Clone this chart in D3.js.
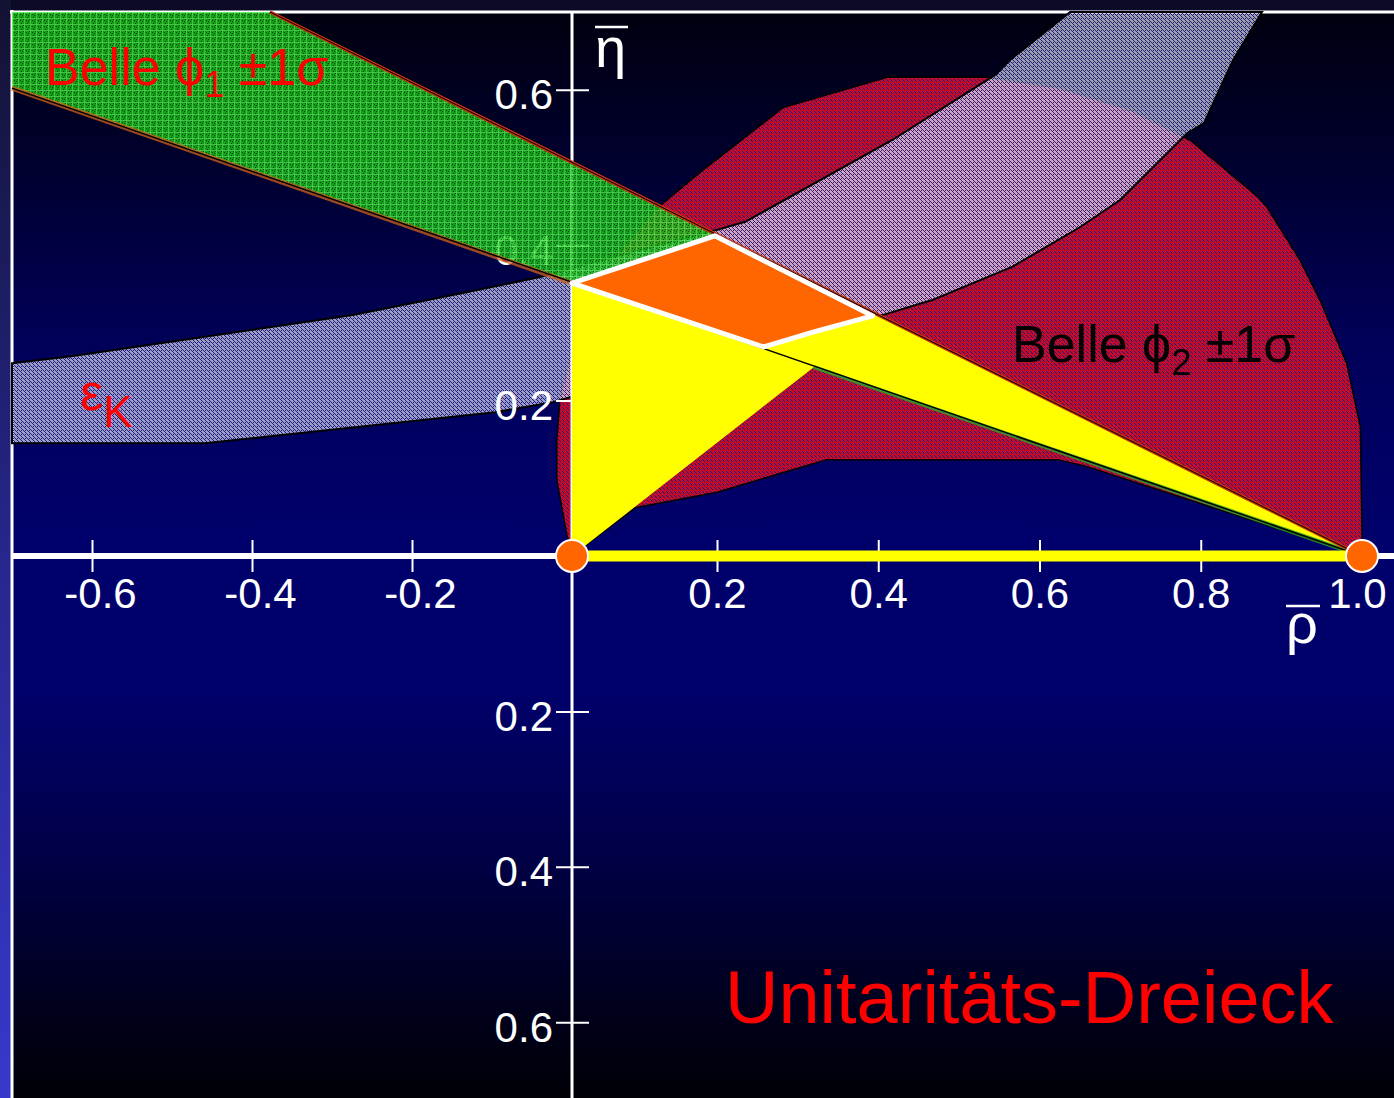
<!DOCTYPE html>
<html>
<head>
<meta charset="utf-8">
<script src="https://cdn.jsdelivr.net/npm/d3@7"></script>
<style>
html, body { margin: 0; padding: 0; background: #0b0b28; }
svg { display: block; }
text { font-family: "Liberation Sans", Arial, sans-serif; }
</style>
</head>
<body>
<div id="chart"></div>
<script>
// tick values on the rho-bar / eta-bar axes
const xTicks = [-0.6, -0.4, -0.2, 0.2, 0.4, 0.6, 0.8, 1.0]
const yTicks = [-0.6, -0.4, -0.2, 0.2, 0.4, 0.6]

// Belle phi1 +-1 sigma wedge, both edges run into (1,0)
const phi1Band = [[-0.7, 0.7], [-0.3775, 0.7], [1, 0], [-0.7, 0.602]]
const phi1Upper = [[-0.3775, 0.7], [1, 0]]
const phi1LowerLeft = [[-0.7, 0.602], [0, 0.351]]
const phi1LowerRight = [[0.32, 0.243], [1, 0]]

// Belle phi2 +-1 sigma region
const phi2Region = [
  [0, 0], [0.087, 0.062], [0.2, 0.082], [0.336, 0.124], [0.622, 0.124], [0.656, 0.116], [1, 0],
  [1, 0.03], [0.998, 0.166], [0.981, 0.248], [0.948, 0.329], [0.923, 0.381], [0.882, 0.449],
  [0.871, 0.462], [0.787, 0.535], [0.712, 0.574], [0.625, 0.602], [0.534, 0.616], [0.411, 0.616],
  [0.282, 0.577], [0.177, 0.494], [0.114, 0.445], [0.052, 0.375], [0.004, 0.278], [-0.015, 0.203],
  [-0.019, 0.149], [-0.019, 0.098], [-0.006, 0.0245], [0, 0.0103]
]

// epsilon_K band
const epsKBand = [
  [-0.7, 0.248], [-0.626, 0.257], [-0.459, 0.282], [-0.274, 0.310], [-0.129, 0.340], [-0.04, 0.359],
  [0.066, 0.387], [0.201, 0.420], [0.235, 0.430], [0.417, 0.535], [0.545, 0.619], [0.563, 0.638],
  [0.638, 0.700], [0.876, 0.700], [0.840, 0.638], [0.804, 0.557], [0.783, 0.544], [0.700, 0.458],
  [0.650, 0.423], [0.566, 0.372], [0.466, 0.329], [0.402, 0.309], [0.253, 0.272], [0.108, 0.233],
  [0, 0.205], [-0.024, 0.198], [-0.096, 0.185], [-0.459, 0.145], [-0.7, 0.145]
]

// yellow triangle region and the combined best fit (orange)
const triangle = [[0, 0], [0, 0.351], [0.197, 0.414], [1, 0], [0.32, 0.243]]
const bestFit = [[0, 0.351], [0.197, 0.412], [0.393, 0.309], [0.319, 0.288], [0.258, 0.269]]
const corners = [[0, 0], [1, 0]]

const width = 1394, height = 1098

const svg = d3.select("#chart").append("svg")
    .attr("width", width)
    .attr("height", height)

// slide axes were placed by hand, so rho uses a few linear pieces
const x = d3.scaleLinear().domain([-0.7, 0, 0.2, 1]).range([12, 572, 717, 1362])
const y = d3.scaleLinear().domain([-0.7, 0.7]).range([1100, 12])

const defs = svg.append("defs")

function vGrad(id, stops) {
    let g = defs.append("linearGradient").attr("id", id)
        .attr("x1", 0).attr("y1", 0).attr("x2", 0).attr("y2", 1)
    stops.forEach(s => g.append("stop").attr("offset", s[0]).attr("stop-color", s[1]))
}
vGrad("bg", [[0, "#000010"], [0.13, "#00002c"], [0.31, "#00005a"], [0.49, "#00006c"],
             [0.63, "#00006a"], [0.77, "#000048"], [0.91, "#00001e"], [1, "#000006"]])
vGrad("side", [[0, "#121232"], [0.5, "#26268c"], [1, "#3838cc"]])

function speckle(id, size, base, baseOpacity, dots, dotColor, dotOpacity) {
    let p = defs.append("pattern").attr("id", id)
        .attr("patternUnits", "userSpaceOnUse")
        .attr("width", size).attr("height", size)
    p.append("rect").attr("width", size).attr("height", size)
        .attr("fill", base).attr("fill-opacity", baseOpacity)
    dots.forEach(d => p.append("rect").attr("x", d[0]).attr("y", d[1])
        .attr("width", 1).attr("height", 1)
        .attr("fill", dotColor).attr("fill-opacity", dotOpacity))
    return p
}

let gp = speckle("greenTex", 6, "#16bc16", 1, [[2, 2], [4, 3], [3, 5], [5, 1]], "#055005", 1)
gp.append("rect").attr("width", 6).attr("height", 1).attr("fill", "#66f466").attr("fill-opacity", 0.7)
gp.append("rect").attr("width", 1).attr("height", 6).attr("fill", "#66f466").attr("fill-opacity", 0.7)
speckle("redTex", 4, "#c40c28", 1, [[0, 1], [2, 3], [3, 0]], "#1a1a80", 1)
speckle("epsTex", 4, "#ffffff", 0.62, [[1, 0], [3, 2], [0, 3], [2, 1], [1, 2]], "#10108a", 0.9)

// background, frame
svg.append("rect").attr("width", width).attr("height", height).attr("fill", "#0b0b28")
svg.append("rect").attr("x", 0).attr("y", 0).attr("width", 11).attr("height", height).attr("fill", "url(#side)")
svg.append("rect").attr("x", 12).attr("y", 12).attr("width", width - 12).attr("height", height - 12).attr("fill", "url(#bg)")
svg.append("line").attr("x1", 10).attr("x2", width).attr("y1", 12).attr("y2", 12)
    .attr("stroke", "white").attr("stroke-width", 3)
svg.append("line").attr("x1", 12).attr("x2", 12).attr("y1", 10).attr("y2", height)
    .attr("stroke", "white").attr("stroke-width", 3)

const poly = d3.line().x(d => x(d[0])).y(d => y(d[1])).curve(d3.curveLinearClosed)
const seg = d3.line().x(d => x(d[0])).y(d => y(d[1]))

// phi2 region
svg.append("path").attr("d", poly(phi2Region))
    .attr("fill", "url(#redTex)").attr("stroke", "black").attr("stroke-width", 1.5)

// epsilon_K band (lets the red show through, giving the pink overlap)
svg.append("path").attr("d", poly(epsKBand))
    .attr("fill", "url(#epsTex)").attr("stroke", "black").attr("stroke-width", 2)

// axes
let axisG = svg.append("g")
axisG.append("line").attr("x1", x(0)).attr("x2", x(0)).attr("y1", 12).attr("y2", height)
    .attr("stroke", "white").attr("stroke-width", 3)

let yAxis = axisG.append("g")
    .attr("transform", `translate(${x(0) + 17},0)`)
    .call(d3.axisLeft(y).tickValues(yTicks).tickSizeInner(33).tickSizeOuter(0).tickPadding(3)
        .tickFormat(d => Math.abs(d).toFixed(1)))
yAxis.select(".domain").remove()
yAxis.selectAll("line").attr("stroke", "white").attr("stroke-width", 2)
yAxis.selectAll("text").attr("fill", "white").attr("dy", "0.45em")
    .style("font-size", "42px").style("font-family", "'Liberation Sans', Arial, sans-serif")

let xAxis = axisG.append("g")
    .attr("transform", `translate(0,${y(0) - 16})`)
    .call(d3.axisBottom(x).tickValues(xTicks).tickSize(32).tickPadding(6)
        .tickFormat(d => d.toFixed(1)))
xAxis.select(".domain").remove()
xAxis.selectAll("line").attr("stroke", "white").attr("stroke-width", 2)
xAxis.selectAll("text").attr("fill", "white")
    .attr("dx", d => d < 0 ? 8 : (d == 1 ? -5 : 0))
    .style("font-size", "42px").style("font-family", "'Liberation Sans', Arial, sans-serif")

// phi1 band
svg.append("path").attr("d", poly(phi1Band))
    .attr("fill", "url(#greenTex)").attr("fill-opacity", 0.85)

// yellow triangle area and best fit
svg.append("path").attr("d", poly(triangle)).attr("fill", "#ffff00")

svg.append("path").attr("d", seg(phi1LowerLeft))
    .attr("stroke", "#d0601c").attr("stroke-width", 5).attr("stroke-opacity", 0.75).attr("fill", "none")
svg.append("path").attr("d", seg(phi1LowerRight))
    .attr("stroke", "#2aa82a").attr("stroke-width", 4).attr("stroke-opacity", 0.8).attr("fill", "none")
svg.append("path").attr("d", seg([phi1LowerLeft[0], phi1LowerRight[1]]))
    .attr("stroke", "black").attr("stroke-width", 1.5).attr("fill", "none")
svg.append("path").attr("d", seg(phi1Upper))
    .attr("stroke", "#c8340c").attr("stroke-width", 3.5).attr("fill", "none")
svg.append("path").attr("d", seg(phi1Upper))
    .attr("stroke", "black").attr("stroke-width", 1).attr("fill", "none")

svg.append("path").attr("d", poly(bestFit))
    .attr("fill", "#ff6600").attr("stroke", "white").attr("stroke-width", 5)
    .attr("stroke-linejoin", "round")

// rho axis on top
svg.append("line").attr("x1", 12).attr("x2", width).attr("y1", y(0)).attr("y2", y(0))
    .attr("stroke", "white").attr("stroke-width", 6)
svg.append("line").attr("x1", x(0)).attr("x2", x(1)).attr("y1", y(0)).attr("y2", y(0))
    .attr("stroke", "#ffff00").attr("stroke-width", 11)

svg.selectAll(".corner").data(corners).enter().append("circle")
    .attr("class", "corner")
    .attr("cx", d => x(d[0])).attr("cy", d => y(d[1])).attr("r", 16)
    .attr("fill", "#ff6600").attr("stroke", "white").attr("stroke-width", 2)

// axis names with bars
svg.append("text").attr("x", 595).attr("y", 67).attr("fill", "white")
    .style("font-size", "56px").text("η")
svg.append("line").attr("x1", 595).attr("x2", 628).attr("y1", 27).attr("y2", 27)
    .attr("stroke", "white").attr("stroke-width", 2.5)
svg.append("text").attr("x", 1286).attr("y", 643).attr("fill", "white")
    .style("font-size", "56px").text("ρ")
svg.append("line").attr("x1", 1286).attr("x2", 1320).attr("y1", 606).attr("y2", 606)
    .attr("stroke", "white").attr("stroke-width", 2.5)

// labels
let l1 = svg.append("text").attr("x", 45).attr("y", 85).attr("fill", "#ff0000").style("font-size", "52px")
l1.append("tspan").text("Belle ϕ")
l1.append("tspan").attr("dy", 12).style("font-size", "36px").text("1")
l1.append("tspan").attr("dy", -12).text(" ±1σ")

let l2 = svg.append("text").attr("x", 1012).attr("y", 362).attr("fill", "black").style("font-size", "52px")
l2.append("tspan").text("Belle ϕ")
l2.append("tspan").attr("dy", 13).style("font-size", "36px").text("2")
l2.append("tspan").attr("dy", -13).text(" ±1σ")

let l3 = svg.append("text").attr("x", 80).attr("y", 410).attr("fill", "#ff0000").style("font-size", "52px")
l3.append("tspan").text("ε")
l3.append("tspan").attr("dy", 17).style("font-size", "44px").text("K")

svg.append("text").attr("x", 725).attr("y", 1023).attr("fill", "#ff0000")
    .style("font-size", "74px").text("Unitaritäts-Dreieck")
</script>
</body>
</html>
